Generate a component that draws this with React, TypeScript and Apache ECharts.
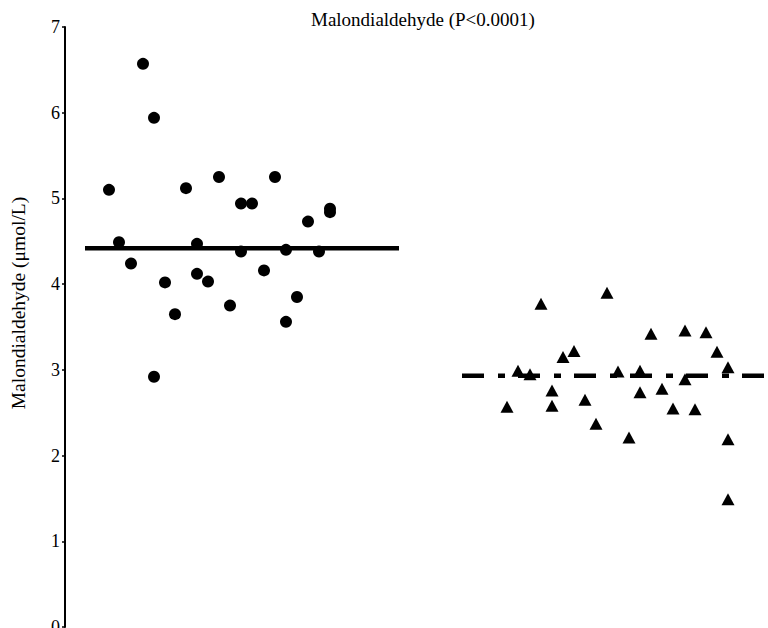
import React, { useEffect, useRef } from "react";
import * as echarts from "echarts";

// Group 1 (circles): horizontal jitter position and Malondialdehyde value
const group1X = [78, 89, 44, 121, 154, 210, 176, 187, 243, 265, 265, 54, 132, 176, 221, 254, 66, 100, 132, 143, 199, 110, 165, 232, 221, 89];
const group1Y = [6.57, 5.94, 5.1, 5.12, 5.25, 5.25, 4.94, 4.94, 4.73, 4.88, 4.84, 4.49, 4.47, 4.38, 4.4, 4.38, 4.24, 4.02, 4.12, 4.03, 4.16, 3.65, 3.75, 3.85, 3.56, 2.92];
// Group 2 (triangles)
const group2X = [476, 542, 586, 620, 641, 652, 498, 509, 453, 465, 553, 575, 620, 663, 487, 575, 597, 442, 487, 520, 608, 630, 531, 564, 663, 663];
const group2Y = [3.77, 3.9, 3.42, 3.46, 3.44, 3.21, 3.15, 3.22, 2.99, 2.95, 2.98, 2.99, 2.89, 3.03, 2.76, 2.74, 2.78, 2.57, 2.58, 2.65, 2.55, 2.54, 2.37, 2.21, 2.19, 1.49];

// Group reference lines (value + horizontal extent)
const mean1 = 4.42;
const mean1Extent = [20, 334];
const mean2 = 2.93;
const mean2Extent = [397, 703];

const yTicks = [0, 1, 2, 3, 4, 5, 6, 7];
const titleText = "Malondialdehyde (P<0.0001)";
const yAxisTitle = "Malondialdehyde (μmol/L)";

const FONT = "'Liberation Serif', 'DejaVu Serif', serif";

export default function App() {
  const ref = useRef<HTMLDivElement>(null);
  useEffect(() => {
    if (!ref.current) return;
    const chart = echarts.init(ref.current, undefined, { renderer: "svg" });
    chart.setOption({
      animation: false,
      backgroundColor: "#ffffff",
      title: {
        text: titleText,
        left: 306,
        top: 5,
        textStyle: { fontFamily: FONT, fontWeight: "normal", fontSize: 19, color: "#000" },
      },
      graphic: [
        {
          type: "text",
          x: 18,
          y: 303,
          rotation: Math.PI / 2,
          style: {
            text: yAxisTitle,
            fontFamily: FONT,
            fontSize: 19.5,
            fill: "#000",
            align: "center",
            verticalAlign: "middle",
          },
        },
      ],
      grid: {
        left: 65,
        width: 703,
        top: 27,
        height: 600,
        containLabel: false,
        outerBoundsMode: "none",
      },
      xAxis: {
        type: "value",
        min: 0,
        max: 703,
        show: false,
      },
      yAxis: {
        type: "value",
        min: yTicks[0],
        max: yTicks[yTicks.length - 1],
        interval: 1,
        axisLine: { show: true, lineStyle: { color: "#000", width: 2 } },
        axisTick: { show: true, length: 3, lineStyle: { color: "#000", width: 1.5 } },
        axisLabel: { fontFamily: FONT, fontSize: 18, color: "#000", margin: 5 },
        splitLine: { show: false },
      },
      series: [
        {
          type: "line",
          data: [[mean1Extent[0], mean1], [mean1Extent[1], mean1]],
          symbol: "none",
          lineStyle: { color: "#000", width: 4.5, cap: "butt" },
          z: 2,
        },
        {
          type: "line",
          data: [[mean2Extent[0], mean2], [mean2Extent[1], mean2]],
          symbol: "none",
          lineStyle: { color: "#000", width: 4.5, type: [22, 14, 7, 13], cap: "butt" },
          z: 2,
        },
        {
          type: "scatter",
          data: group1X.map((x, i) => [x, group1Y[i]]),
          symbol: "circle",
          symbolSize: 12,
          itemStyle: { color: "#000", opacity: 1 },
          z: 3,
        },
        {
          type: "scatter",
          data: group2X.map((x, i) => [x, group2Y[i]]),
          symbol: "triangle",
          symbolSize: [13, 12],
          itemStyle: { color: "#000", opacity: 1 },
          z: 3,
        },
      ],
    });
    return () => chart.dispose();
  }, []);
  return (
    <div
      ref={ref}
      style={{ position: "absolute", left: 0, top: 0, width: 768, height: 628 }}
    />
  );
}
